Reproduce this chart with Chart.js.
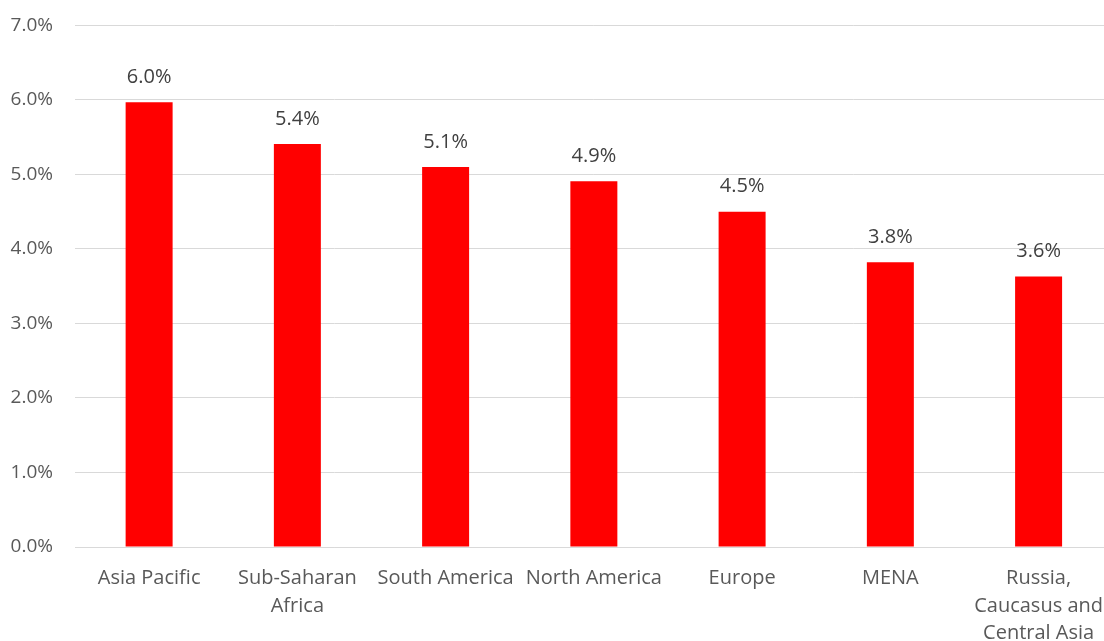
<!DOCTYPE html>
<html>
<head>
<meta charset="utf-8">
<script src="https://cdn.jsdelivr.net/npm/chart.js@4/dist/chart.umd.min.js"></script>
<style>
    html, body { margin: 0; padding: 0; background: #fff; overflow: hidden; }
    #wrap { width: 1121px; height: 649px; margin-top: -8px; }
</style>
</head>
<body>
<div id="wrap"><canvas id="grafico"></canvas></div>
<script>
const categorias = [
    "Asia Pacific",
    ["Sub-Saharan", "Africa"],
    "South America",
    "North America",
    "Europe",
    "MENA",
    ["Russia,", "Caucasus and", "Central Asia"]
];
const valores = [5.97, 5.41, 5.10, 4.91, 4.50, 3.82, 3.63];
const etiquetas = ["6.0%", "5.4%", "5.1%", "4.9%", "4.5%", "3.8%", "3.6%"];
const fuente = "'Open Sans', sans-serif";

// dibuja el valor encima de cada barra
const valoresArriba = {
    id: "valoresArriba",
    afterDatasetsDraw(chart) {
        const ctx = chart.ctx;
        const meta = chart.getDatasetMeta(0);
        ctx.save();
        ctx.font = "20px " + fuente;
        ctx.fillStyle = "#404040";
        ctx.textAlign = "center";
        ctx.textBaseline = "middle";
        meta.data.forEach(function(bar, i){
            ctx.fillText(etiquetas[i], bar.x, bar.y - 25);
        });
        ctx.restore();
    }
};

new Chart(document.getElementById("grafico"), {
    type: "bar",
    plugins: [valoresArriba],
    data: {
        labels: categorias,
        datasets: [{
            data: valores,
            backgroundColor: "#ff0000",
            borderWidth: 0,
            barPercentage: 1,
            categoryPercentage: 0.317
        }]
    },
    options: {
        responsive: true,
        maintainAspectRatio: false,
        animation: false,
        layout: { padding: { top: 12, right: 0, bottom: 0, left: 0 } },
        plugins: {
            legend: { display: false },
            tooltip: { enabled: false }
        },
        scales: {
            x: {
                grid: { display: false, drawTicks: false },
                border: { color: "#d9d9d9", width: 1 },
                ticks: {
                    color: "#595959",
                    font: { family: fuente, size: 20, lineHeight: 1.375 },
                    padding: 18,
                    maxRotation: 0,
                    autoSkip: false
                },
                afterFit: function(scale){ scale.height = 94; }
            },
            y: {
                min: 0,
                max: 7,
                grid: { color: "#d9d9d9", lineWidth: 1, drawTicks: false },
                border: { display: false },
                ticks: {
                    stepSize: 1,
                    color: "#595959",
                    font: { family: fuente, size: 19 },
                    padding: 22,
                    callback: function(v){ return v.toFixed(1) + "%"; }
                },
                afterFit: function(scale){ scale.width = 75; }
            }
        }
    }
});
</script>
</body>
</html>
